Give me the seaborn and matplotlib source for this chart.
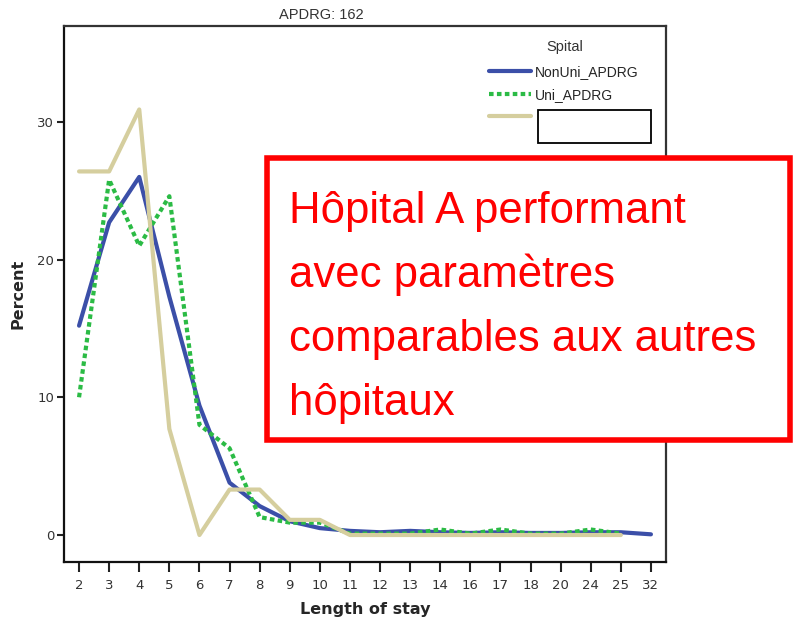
import numpy as np
import matplotlib
matplotlib.use("Agg")
import matplotlib.pyplot as plt
from matplotlib.lines import Line2D
from matplotlib.patches import Rectangle
import seaborn as sns

# data
los = [2, 3, 4, 5, 6, 7, 8, 9, 10, 11, 12, 13, 14, 16, 17, 18, 20, 24, 25, 32]
nonuni = [15.2, 22.7, 26.0, 17.3, 9.4, 3.8, 2.1, 1.0, 0.5, 0.3, 0.2, 0.3, 0.2, 0.15, 0.2, 0.15, 0.15, 0.2, 0.2, 0.05]
uni = [10.0, 25.8, 21.0, 24.6, 8.0, 6.3, 1.3, 0.9, 0.9, 0.1, 0.1, 0.1, 0.4, 0.1, 0.4, 0.1, 0.1, 0.4, 0.1, np.nan]
spital_a = [26.4, 26.4, 30.9, 7.7, 0.0, 3.3, 3.3, 1.1, 1.1, 0, 0, 0, 0, 0, 0, 0, 0, 0, 0, np.nan]
series_names = ["NonUni_APDRG", "Uni_APDRG", ""]
note_lines = ["Hôpital A performant", "avec paramètres", "comparables aux autres", "hôpitaux"]

blue, green, tan = "#3b4fa8", "#2bbb45", "#d5ce9e"

sns.set_style("ticks")
plt.rcParams["font.family"] = ["DejaVu Sans"]

W, H = 793, 618
fig = plt.figure(figsize=(W / 100, H / 100), dpi=100)


def fx(px):
    return px / W


def fy(py):
    return 1 - py / H


ax = fig.add_axes([fx(64), fy(562), fx(666) - fx(64), fy(26) - fy(562)])
pos = np.arange(len(los))

sns.lineplot(x=pos, y=nonuni, ax=ax, color=blue, lw=3)
sns.lineplot(x=pos, y=uni, ax=ax, color=green, lw=3, linestyle=(0, (1.1, 0.8)))
sns.lineplot(x=pos, y=spital_a, ax=ax, color=tan, lw=3)

ax.set_xlim(-0.5, len(los) - 0.5)
ax.set_ylim(-1.96, 36.96)
ax.set_xticks(pos)
ax.set_xticklabels([str(v) for v in los])
ax.set_yticks([0, 10, 20, 30])
ax.tick_params(axis="both", colors="#222222", labelcolor="#333333", labelsize=9.5, width=1.5)
ax.tick_params(axis="x", length=7, pad=5)
ax.tick_params(axis="y", length=5, pad=2)
for sp in ax.spines.values():
    sp.set_visible(True)
    sp.set_color("#333333")
    sp.set_linewidth(1.6)
ax.spines["left"].set_color("#111111")
ax.spines["bottom"].set_color("#111111")

ax.set_xlabel("Length of stay", fontsize=11.5, fontweight="bold")
ax.set_ylabel("Percent", fontsize=11.5, fontweight="bold")
ax.xaxis.set_label_coords(0.5, -0.075)
ax.yaxis.set_label_coords(-0.064, 0.5)
fig.text(fx(321), fy(15), "APDRG: 162", ha="center", va="center", fontsize=10.5,
         color="#333333", family=["Liberation Sans", "DejaVu Sans"])

# legend
handles = [Line2D([], [], color=blue, lw=3),
           Line2D([], [], color=green, lw=3, linestyle=(0, (1.1, 0.8))),
           Line2D([], [], color=tan, lw=3)]
leg = ax.legend(handles, series_names, loc="upper left",
                bbox_to_anchor=(fx(489), fy(65)), bbox_transform=fig.transFigure,
                frameon=False, borderpad=0, borderaxespad=0, handlelength=3.0,
                handletextpad=0.3, labelspacing=0.62,
                prop={"family": ["Liberation Sans", "DejaVu Sans"], "size": 10})
fig.text(fx(565), fy(47), "Spital", ha="center", va="center", fontsize=10.5,
         color="#333333", family=["Liberation Sans", "DejaVu Sans"])
fig.add_artist(Rectangle((fx(538), fy(143)), fx(651) - fx(538), fy(110) - fy(143),
                         transform=fig.transFigure, facecolor="white", edgecolor="black", lw=1.3))

# red annotation box
fig.add_artist(Rectangle((fx(266.5), fy(439.5)), fx(790) - fx(266.5), fy(158.5) - fy(439.5),
                         transform=fig.transFigure, facecolor="white", edgecolor="#ff0000", lw=4, zorder=5))
for line, base in zip(note_lines, [222.5, 286.5, 350.5, 415]):
    fig.text(fx(289), fy(base), line, ha="left", va="baseline", color="#ff0000", fontsize=31.5,
             family=["Liberation Sans", "DejaVu Sans"], zorder=6)

fig.savefig("out.png", dpi=100)
